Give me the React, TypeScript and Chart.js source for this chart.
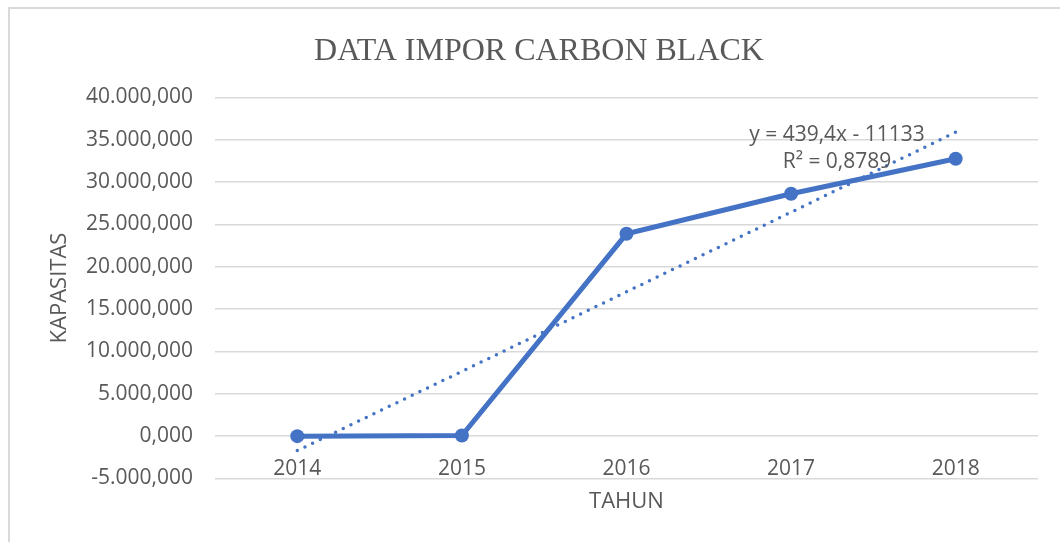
import React, { useEffect, useRef } from "react";
import { Chart, registerables } from "chart.js";

Chart.register(...registerables);

const years = ["2014", "2015", "2016", "2017", "2018"];
const importValues = [0, 80, 23900, 28630, 32760];
const trendValues = [-1700, 7650, 17050, 26450, 35900];
const yTickMin = -5000;
const yTickMax = 40000;
const yTickStep = 5000;
const chartTitle = "DATA IMPOR CARBON BLACK";
const trendEquation = "y = 439,4x - 11133";
const trendR2 = "R² = 0,8789";

const BLUE = "#4472C4";
const TEXT = "#595959";
const GRID = "#d9d9d9";
const FONT = "'Open Sans', sans-serif";

function fmt(v: number): string {
  const neg = v < 0;
  const [ip, dp] = Math.abs(v).toFixed(3).split(".");
  const grouped = ip.replace(/\B(?=(\d{3})+(?!\d))/g, ".");
  return (neg ? "-" : "") + grouped + "," + dp;
}

const overlayPlugin = {
  id: "overlayText",
  afterDraw(chart: any) {
    const ctx = chart.ctx;
    const area = chart.chartArea;
    ctx.save();
    ctx.fillStyle = TEXT;
    ctx.textAlign = "center";
    ctx.textBaseline = "alphabetic";
    ctx.font = "32px 'Liberation Serif', 'Times New Roman', serif";
    ctx.fillText(chartTitle, 539, 60);
    ctx.font = "21px " + FONT;
    ctx.textBaseline = "middle";
    const tx = area.right - 201;
    ctx.fillText(trendEquation, tx, area.top + 38);
    ctx.fillText(trendR2, tx, area.top + 65);
    ctx.restore();
  },
};

export default function App() {
  const ref = useRef<HTMLCanvasElement | null>(null);
  useEffect(() => {
    if (!ref.current) return;
    const chart = new Chart(ref.current, {
      type: "line",
      data: {
        labels: years,
        datasets: [
          {
            label: "Trend",
            data: trendValues,
            borderColor: BLUE,
            backgroundColor: BLUE,
            borderWidth: 3.5,
            borderDash: [0, 8.5],
            borderCapStyle: "round",
            pointRadius: 0,
            pointHoverRadius: 0,
            fill: false,
            tension: 0,
          },
          {
            label: "Impor",
            data: importValues,
            borderColor: BLUE,
            backgroundColor: BLUE,
            borderWidth: 5,
            pointRadius: 7,
            pointBorderWidth: 0,
            pointBackgroundColor: BLUE,
            fill: false,
            tension: 0,
          },
        ],
      },
      options: {
        animation: false,
        responsive: false,
        layout: { padding: { left: 0, right: 22, top: 97.5, bottom: 63.5 } },
        plugins: {
          legend: { display: false },
          tooltip: { enabled: false },
          title: { display: false },
        },
        scales: {
          x: {
            type: "category",
            position: { y: 0 } as any,
            offset: true,
            grid: { display: false, drawTicks: false },
            border: { display: false },
            ticks: {
              color: TEXT,
              font: { family: FONT, size: 21 },
              padding: 20,
              maxRotation: 0,
            },
            title: {
              display: true,
              text: "TAHUN",
              color: TEXT,
              font: { family: FONT, size: 22 },
              padding: { top: 0, bottom: -15.5 },
            },
            afterFit: (s: any) => {
              s.height = 63.5;
            },
          },
          y: {
            min: yTickMin,
            max: yTickMax,
            grid: { color: GRID, lineWidth: 1.5, drawTicks: false },
            border: { display: false },
            ticks: {
              stepSize: yTickStep,
              color: TEXT,
              font: { family: FONT, size: 21 },
              padding: 22,
              callback: (v: any) => fmt(Number(v)),
            },
            title: {
              display: true,
              text: "KAPASITAS",
              color: TEXT,
              font: { family: FONT, size: 22 },
              padding: { top: 47, bottom: 0 },
            },
            afterFit: (s: any) => {
              s.width = 215;
            },
          },
        },
      } as any,
      plugins: [overlayPlugin],
    });
    return () => chart.destroy();
  }, []);

  return (
    <div
      style={{
        position: "absolute",
        left: 0,
        top: 0,
        width: 1060,
        height: 542,
        overflow: "hidden",
        background: "#fff",
      }}
    >
      <canvas ref={ref} width={1060} height={542} style={{ display: "block" }} />
      <div
        style={{
          position: "absolute",
          left: 8,
          top: 7,
          width: 1100,
          height: 600,
          borderTop: "2px solid " + GRID,
          borderLeft: "2px solid " + GRID,
          pointerEvents: "none",
        }}
      />
    </div>
  );
}
